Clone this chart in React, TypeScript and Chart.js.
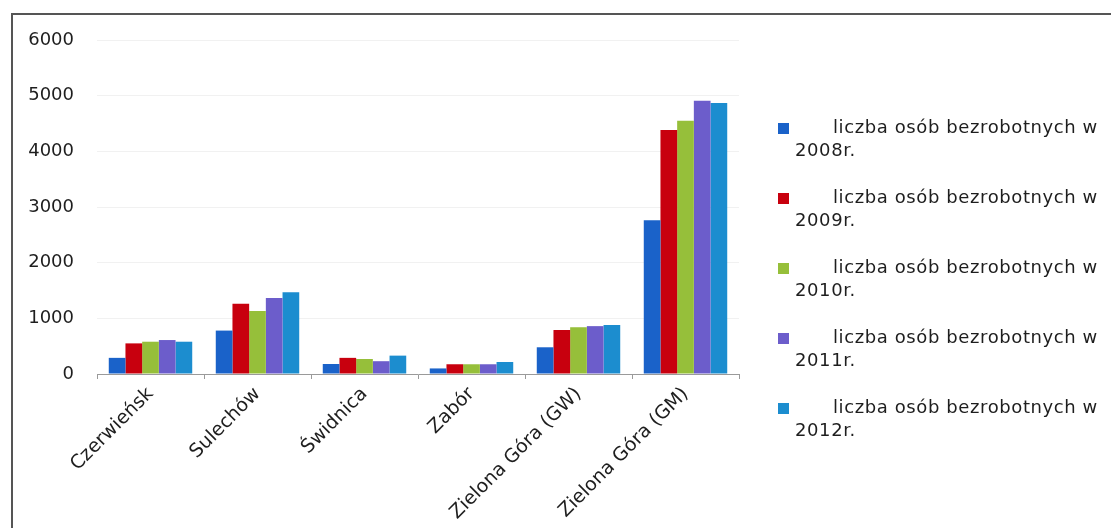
import React, { useEffect, useRef } from "react";
import { Chart, registerables } from "chart.js";

Chart.register(...registerables);

const categories = [
  "Czerwieńsk",
  "Sulechów",
  "Świdnica",
  "Zabór",
  "Zielona Góra (GW)",
  "Zielona Góra (GM)",
];

const seriesNames = [
  "liczba osób bezrobotnych w 2008r.",
  "liczba osób bezrobotnych w 2009r.",
  "liczba osób bezrobotnych w 2010r.",
  "liczba osób bezrobotnych w 2011r.",
  "liczba osób bezrobotnych w 2012r.",
];

const values2008 = [290, 780, 180, 100, 480, 2760];
const values2009 = [550, 1260, 290, 175, 790, 4385];
const values2010 = [580, 1130, 270, 175, 840, 4550];
const values2011 = [610, 1365, 230, 175, 860, 4910];
const values2012 = [580, 1470, 330, 216, 880, 4870];

const seriesValues = [values2008, values2009, values2010, values2011, values2012];
const seriesColors = ["#1a62c9", "#c8000e", "#96bf3a", "#6c5dcb", "#1c8dcf"];

const yTicks = [0, 1000, 2000, 3000, 4000, 5000, 6000];

const FONT = "'DejaVu Sans', 'Open Sans', sans-serif";

const legendPlugin = {
  id: "wrappedLegend",
  afterDraw(chart: any) {
    const ctx = chart.ctx;
    ctx.save();
    ctx.font = `18px ${FONT}`;
    try {
      ctx.letterSpacing = "0.6px";
    } catch (e) {}
    ctx.textBaseline = "middle";
    ctx.textAlign = "left";
    chart.data.datasets.forEach((ds: any, i: number) => {
      const y = 128 + i * 70;
      ctx.fillStyle = ds.backgroundColor;
      ctx.fillRect(778, y - 5, 11, 11);
      ctx.fillStyle = "#1e1e1e";
      const label: string = ds.label;
      const idx = label.lastIndexOf(" ");
      ctx.fillText(label.slice(0, idx), 833, y);
      ctx.fillText(label.slice(idx + 1), 795, y + 23);
    });
    ctx.restore();
  },
};

export default function App() {
  const ref = useRef<HTMLCanvasElement | null>(null);

  useEffect(() => {
    if (!ref.current) return;
    const chart = new Chart(ref.current, {
      type: "bar",
      data: {
        labels: categories,
        datasets: seriesNames.map((name, i) => ({
          label: name,
          data: seriesValues[i],
          backgroundColor: seriesColors[i],
          borderWidth: 0,
          categoryPercentage: 0.78,
          barPercentage: 1,
        })),
      },
      options: {
        animation: false,
        responsive: false,
        maintainAspectRatio: false,
        layout: { padding: { left: 12, right: 372, top: 40, bottom: 0 } },
        plugins: {
          legend: { display: false },
          tooltip: { enabled: false },
        },
        scales: {
          x: {
            offset: true,
            grid: {
              display: true,
              drawOnChartArea: false,
              drawTicks: true,
              tickLength: 5,
              color: "#9a9a9a",
              offset: true,
            },
            border: { display: true, color: "#9a9a9a" },
            ticks: {
              color: "#1e1e1e",
              font: { family: FONT, size: 19 },
              maxRotation: 45,
              minRotation: 45,
              padding: 4,
              autoSkip: false,
            },
            afterFit: (s: any) => {
              s.height = 154;
            },
          },
          y: {
            min: 0,
            max: 6000,
            afterBuildTicks: (s: any) => {
              s.ticks = yTicks.map((v) => ({ value: v }));
            },
            grid: { color: "#f1f1f1", drawTicks: false },
            border: { display: false },
            ticks: {
              color: "#1e1e1e",
              font: { family: FONT, size: 18 },
              padding: 23,
              callback: (v: any) => String(v),
            },
            afterFit: (s: any) => {
              s.width = 85;
            },
          },
        },
      },
      plugins: [legendPlugin],
    });
    return () => chart.destroy();
  }, []);

  return (
    <div
      style={{
        position: "absolute",
        left: 0,
        top: 0,
        width: 1111,
        height: 528,
        background: "#fff",
        overflow: "hidden",
      }}
    >
      <canvas ref={ref} width={1111} height={528} style={{ position: "absolute", left: 0, top: 0 }} />
      <div
        style={{
          position: "absolute",
          left: 11,
          top: 13,
          width: 1120,
          height: 540,
          borderTop: "2px solid #555",
          borderLeft: "2px solid #555",
          pointerEvents: "none",
        }}
      />
    </div>
  );
}
